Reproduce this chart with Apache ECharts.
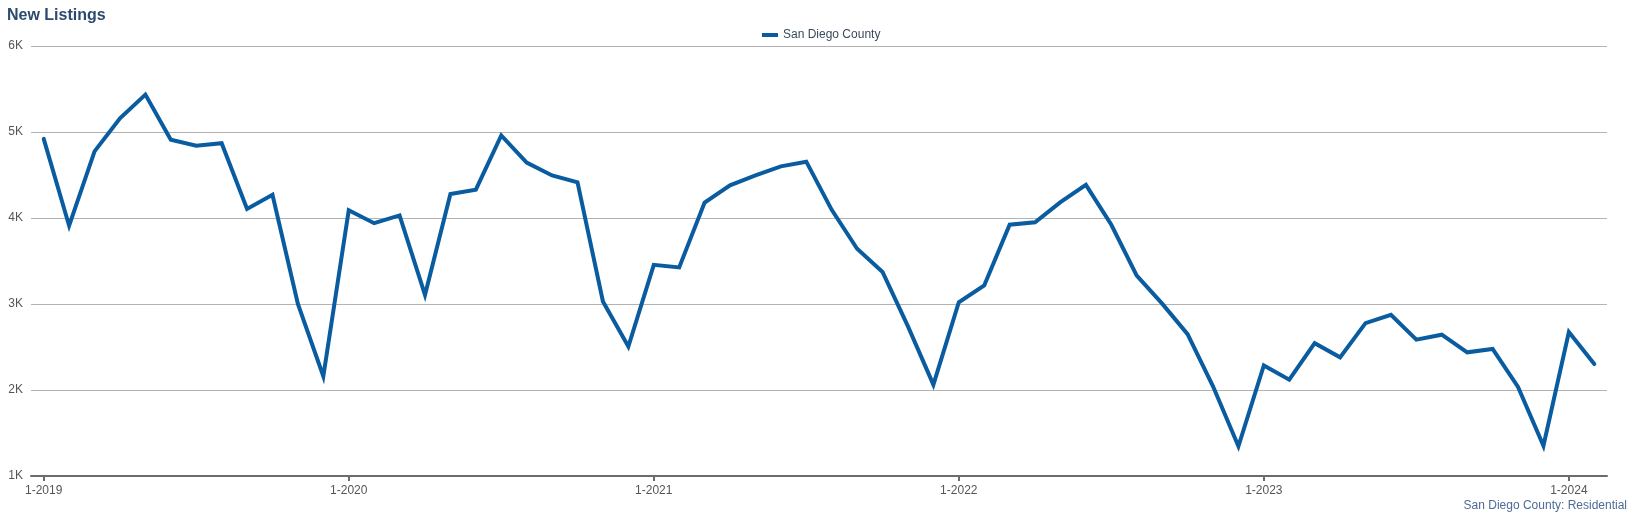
<!DOCTYPE html>
<html>
<head>
<meta charset="utf-8">
<script src="https://cdn.jsdelivr.net/npm/echarts@6/dist/echarts.min.js"></script>
<style>
html,body{margin:0;padding:0;background:#fff;}
#chart{width:1630px;height:515px;}
</style>
</head>
<body>
<div id="chart"></div>
<script>
const months = [
  "1-2019","2-2019","3-2019","4-2019","5-2019","6-2019","7-2019","8-2019","9-2019","10-2019","11-2019","12-2019",
  "1-2020","2-2020","3-2020","4-2020","5-2020","6-2020","7-2020","8-2020","9-2020","10-2020","11-2020","12-2020",
  "1-2021","2-2021","3-2021","4-2021","5-2021","6-2021","7-2021","8-2021","9-2021","10-2021","11-2021","12-2021",
  "1-2022","2-2022","3-2022","4-2022","5-2022","6-2022","7-2022","8-2022","9-2022","10-2022","11-2022","12-2022",
  "1-2023","2-2023","3-2023","4-2023","5-2023","6-2023","7-2023","8-2023","9-2023","10-2023","11-2023","12-2023",
  "1-2024","2-2024"
];
const seriesName = "San Diego County";
const newListings = [
  4920, 3910, 4775, 5160, 5435, 4910, 4840, 4870, 4105, 4270, 3000, 2160,
  4090, 3940, 4030, 3105, 4280, 4330, 4960, 4645, 4495, 4415, 3030, 2505,
  3455, 3425, 4180, 4380, 4495, 4600, 4655, 4095, 3642, 3372, 2740, 2062,
  3020, 3215, 3922, 3950, 4185, 4385, 3921, 3330, 3004, 2650, 2043, 1345,
  2285, 2120, 2545, 2380, 2778, 2875, 2585, 2643, 2438, 2477, 2035, 1352,
  2675, 2302
];
const yTicks = { min: 1000, max: 6000, step: 1000 };
const titleText = "New Listings";
const footnote = "San Diego County: Residential";

const fontFamily = '"Liberation Sans", Arial, sans-serif';
const chart = echarts.init(document.getElementById('chart'), null, {renderer: 'canvas'});
chart.setOption({
  animation: false,
  backgroundColor: '#ffffff',
  title: {
    text: titleText,
    left: 7, top: 8, padding: 0,
    textStyle: { fontFamily, fontSize: 16, fontWeight: 'bold', color: '#2c4a6e' }
  },
  legend: {
    data: [seriesName],
    left: 757, top: 24,
    icon: 'rect', itemWidth: 16, itemHeight: 4,
    textStyle: { fontFamily, fontSize: 12, color: '#3b4a5e' }
  },
  grid: { left: 31, right: 23, top: 46, bottom: 39, containLabel: false },
  xAxis: {
    type: 'category',
    data: months,
    boundaryGap: true,
    axisLine: { show: true, lineStyle: { color: '#6b6b6b', width: 2 } },
    axisTick: { show: true, alignWithLabel: true, interval: 11, length: 5, lineStyle: { color: '#6b6b6b', width: 2 } },
    axisLabel: { interval: 11, margin: 9, fontFamily, fontSize: 12, color: '#555555' },
    splitLine: { show: false }
  },
  yAxis: {
    type: 'value',
    min: yTicks.min, max: yTicks.max, interval: yTicks.step,
    axisLine: { show: false },
    axisTick: { show: false },
    axisLabel: { margin: 8, fontFamily, fontSize: 12, color: '#555555',
      formatter: v => (v / 1000) + 'K' },
    splitLine: { show: true, lineStyle: { color: '#b3b3b3', width: 1 } }
  },
  series: [{
    name: seriesName,
    type: 'line',
    data: newListings,
    showSymbol: false,
    symbol: 'none',
    lineStyle: { color: '#0a5ca0', width: 4, cap: 'round', join: 'miter' },
    itemStyle: { color: '#0a5ca0' }
  }],
  graphic: [{
    type: 'text',
    right: 3, bottom: 3,
    style: { text: footnote, font: '12px ' + fontFamily, fill: '#4f6b96' }
  }]
});
</script>
</body>
</html>
